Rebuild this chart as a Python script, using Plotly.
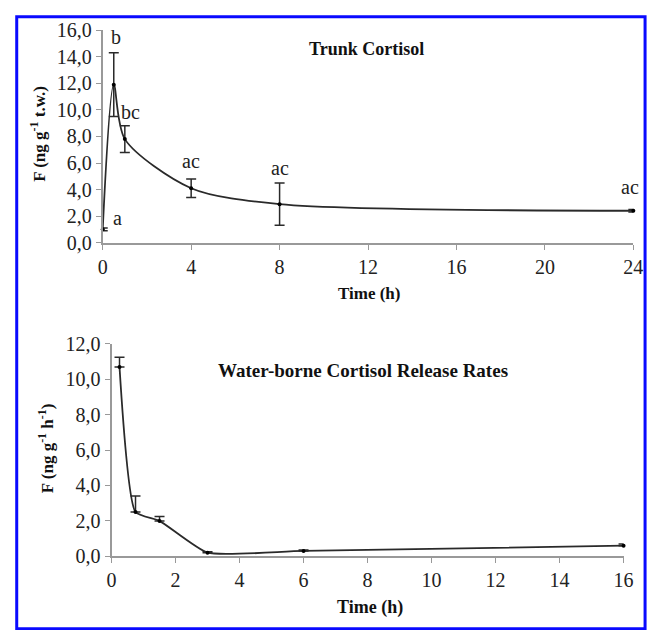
import plotly.graph_objects as go

# ---- data: Trunk cortisol ----
trunk_t = [0, 0.5, 1, 4, 8, 24]
trunk_f = [1.0, 11.9, 7.8, 4.1, 2.9, 2.4]
trunk_err = [0.1, 2.4, 1.0, 0.7, 1.6, 0.1]
trunk_letters = ["a", "b", "bc", "ac", "ac", "ac"]

# ---- data: Water-borne cortisol release rates ----
water_t = [0.25, 0.75, 1.5, 3, 6, 16]
water_f = [10.7, 2.5, 2.0, 0.2, 0.3, 0.6]
water_err = [0.55, 0.9, 0.25, 0.05, 0.05, 0.1]

W, H = 658, 630
FONT = "Times New Roman, Liberation Serif, serif"
AX = "#999999"
LINE = "#2a2a2a"


def px_x(p):
    return p / W


def px_y(p):
    return (H - p) / H


fig = go.Figure()

fig.add_trace(go.Scatter(
    x=trunk_t, y=trunk_f, mode="lines+markers",
    line=dict(color=LINE, width=1.8, shape="spline", smoothing=0.8),
    marker=dict(color="black", size=4),
    error_y=dict(type="data", array=trunk_err, symmetric=True,
                 color=LINE, thickness=1.5, width=5),
    cliponaxis=False, showlegend=False, xaxis="x", yaxis="y"))

fig.add_trace(go.Scatter(
    x=water_t, y=water_f, mode="lines+markers",
    line=dict(color=LINE, width=1.8, shape="spline", smoothing=0.5),
    marker=dict(color="black", size=4),
    error_y=dict(type="data", array=water_err, arrayminus=[0] * len(water_err),
                 symmetric=False, color=LINE, thickness=1.5, width=5),
    cliponaxis=False, showlegend=False, xaxis="x2", yaxis="y2"))

axis_common = dict(
    showgrid=False, zeroline=False, showline=True, linecolor=AX, linewidth=2,
    ticks="outside", ticklen=5, tickwidth=1, tickcolor=AX,
    tickfont=dict(family=FONT, size=20, color="#222"),
)

fig.update_layout(
    width=W, height=H, autosize=False,
    margin=dict(l=0, r=0, t=0, b=0),
    paper_bgcolor="white", plot_bgcolor="white",
    separators=", ",
    xaxis=dict(domain=[px_x(100), px_x(643)], range=[0, 24], dtick=4, tick0=0,
               anchor="y", **axis_common),
    yaxis=dict(domain=[px_y(240), px_y(20)], range=[0, 16], dtick=2,
               tickformat=".1f", anchor="x", **axis_common),
    xaxis2=dict(domain=[px_x(109), px_x(633)], range=[0, 16], dtick=2, tick0=0,
                anchor="y2", **axis_common),
    yaxis2=dict(domain=[px_y(565), px_y(345)], range=[0, 12], dtick=2,
                tickformat=".1f", anchor="x2", **axis_common),
)

annots = []
# significance letters (top chart), offsets in pixels from the error-bar top
shifts = [(15, 10), (2, 16), (6, 14), (0, 18), (0, 15), (-3, 22)]
for t, f, e, lab, (dx, dy) in zip(trunk_t, trunk_f, trunk_err, trunk_letters, shifts):
    annots.append(dict(x=t, y=f + e, xref="x", yref="y", text=lab, showarrow=False,
                       xshift=dx, yshift=dy, font=dict(family=FONT, size=20, color="#222")))


def ptext(x, y, text, size, angle=0):
    annots.append(dict(x=px_x(x), y=px_y(y), xref="paper", yref="paper", text=text,
                       showarrow=False, textangle=angle, xanchor="center", yanchor="middle",
                       font=dict(family=FONT, size=size, color="#111")))


ptext(370, 39, "<b>Trunk Cortisol</b>", 18)
ptext(366, 372, "<b>Water-borne Cortisol Release Rates</b>", 19)
ptext(373, 293, "<b>Time (h)</b>", 17)
ptext(374, 618, "<b>Time (h)</b>", 18)
ptext(33, 127, "<b>F (ng g<sup>-1</sup> t.w.)</b>", 17, -90)
ptext(42, 453, "<b>F (ng g<sup>-1</sup> h<sup>-1</sup>)</b>", 17, -90)

fig.update_layout(annotations=annots)

# blue frame
fig.add_shape(type="rect", xref="paper", yref="paper",
              x0=px_x(12), x1=px_x(655), y0=px_y(640), y1=px_y(6),
              line=dict(color="#0a0aff", width=3), fillcolor="rgba(0,0,0,0)")

fig.write_html("out.html")
